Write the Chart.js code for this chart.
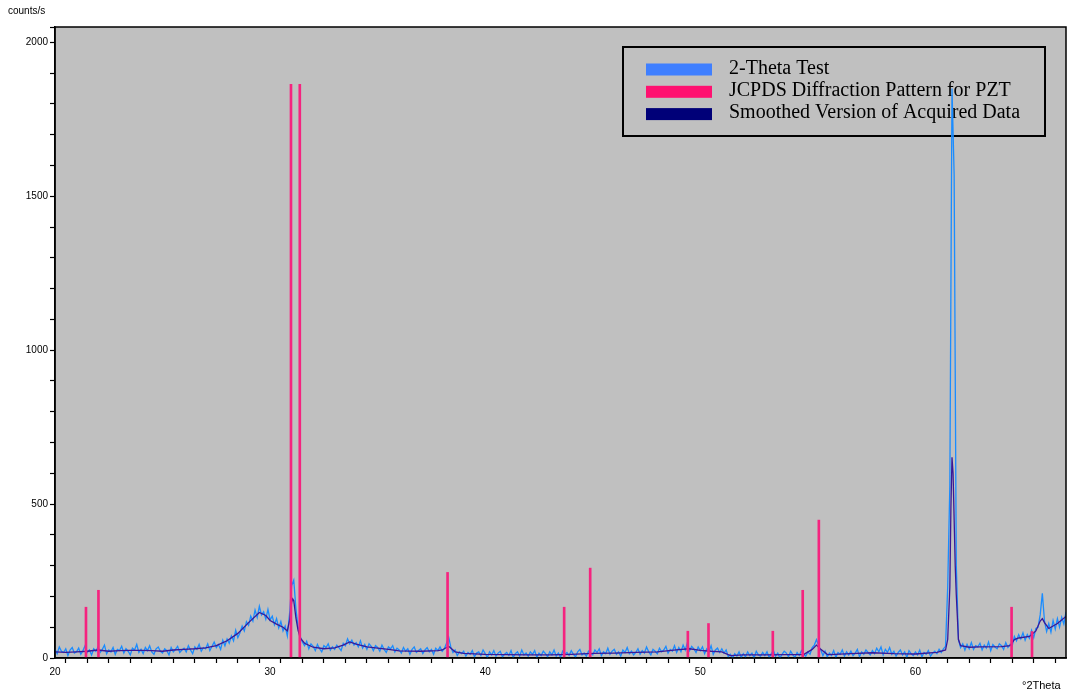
<!DOCTYPE html>
<html>
<head>
<meta charset="utf-8">
<title>XRD scan - PZT</title>
<script src="https://cdn.jsdelivr.net/npm/chart.js@4.4.1/dist/chart.umd.min.js"></script>
<style>
    html, body { margin: 0; padding: 0; background: #ffffff; }
    #wrap { width: 1073px; height: 696px; }
</style>
</head>
<body>
<div id="wrap"><canvas id="xrd" width="1073" height="696"></canvas></div>
<script>
// scan grid of the measured pattern (°2Theta)
const scanStart = 20;
const scanStep = 0.1;

// measured counts/s, one value per scan step, 20.0 .. 67.0
const rawCounts = [
    28, 14, 36, 22, 18, 30, 8, 26, 34, 16,
    20, 32, 12, 24, 40, 18, 26, 10, 30, 22,
    36, 18, 28, 42, 14, 26, 20, 34, 12, 28,
    24, 38, 16, 30, 22, 10, 32, 26, 44, 18,
    28, 14, 34, 24, 40, 20, 12, 30, 36, 22,
    16, 30, 24, 10, 34, 20, 28, 38, 18, 26,
    32, 20, 40, 26, 14, 36, 28, 44, 22, 34,
    30, 46, 24, 38, 52, 34, 44, 28, 58, 40,
    62, 48, 72, 56, 90, 66, 82, 104, 88, 118,
    106, 136, 120, 156, 132, 168, 140, 150, 126, 158,
    124, 136, 108, 128, 98, 118, 88, 104, 72, 140,
    235, 253, 160, 100, 70, 52, 40, 54, 30, 46,
    38, 24, 44, 30, 20, 40, 34, 46, 26, 36,
    28, 42, 34, 24, 48, 40, 62, 46, 58, 42,
    50, 36, 56, 32, 44, 28, 46, 38, 24, 40,
    34, 22, 42, 28, 18, 36, 30, 40, 20, 32,
    26, 16, 34, 22, 30, 12, 28, 36, 18, 24,
    30, 14, 26, 34, 20, 28, 12, 32, 24, 36,
    22, 30, 48, 68, 36, 18, 26, 8, 20, 14,
    22, 6, 18, 12, 24, 4, 16, 20, 8, 26,
    14, 2, 20, 10, 24, 6, 16, 22, 4, 12,
    18, 8, 24, 2, 14, 20, 6, 26, 10, 16,
    6, 20, 12, 24, 2, 16, 8, 22, 14, 4,
    20, 10, 26, 6, 16, 2, 22, 12, 18, 8,
    24, 12, 4, 20, 28, 10, 16, 6, 22, 14,
    10, 26, 18, 30, 8, 20, 14, 32, 12, 22,
    28, 12, 20, 6, 26, 18, 34, 14, 22, 10,
    18, 30, 12, 24, 16, 36, 20, 10, 28, 22,
    14, 32, 20, 26, 38, 16, 28, 22, 40, 18,
    34, 20, 42, 26, 50, 24, 38, 30, 18, 36,
    24, 36, 14, 30, 20, 40, 12, 26, 32, 18,
    30, 16, 26, 4, 12, 0, 14, 6, 20, 2,
    14, 4, 20, 8, 16, 0, 22, 10, 6, 18,
    8, 20, 2, 14, 24, 6, 16, 0, 12, 22,
    16, 4, 22, 10, 2, 18, 8, 24, 12, 6,
    20, 12, 34, 42, 60, 40, 26, 8, 22, 4,
    16, 8, 24, 2, 18, 12, 26, 6, 20, 10,
    22, 8, 16, 28, 4, 20, 12, 26, 18, 10,
    24, 14, 32, 20, 36, 10, 28, 18, 34, 12,
    22, 6, 18, 26, 10, 20, 2, 24, 14, 8,
    20, 10, 26, 4, 18, 12, 24, 6, 16, 22,
    14, 28, 18, 30, 38, 230, 560, 1850, 1570, 300,
    60, 34, 46, 26, 44, 30, 50, 28, 40, 36,
    48, 26, 42, 32, 52, 24, 44, 36, 30, 46,
    40, 28, 50, 34, 44, 40, 70, 56, 76, 62,
    82, 58, 76, 64, 90, 66, 96, 100, 140, 210,
    120, 86, 112, 84, 122, 94, 128, 100, 132, 110,
    150
];

// smoothed curve
const smoothTheta = [
    20.0, 20.5, 21.0, 21.5, 22.0, 22.5, 23.0, 23.5, 24.0, 24.5,
    25.0, 25.5, 26.0, 26.5, 27.0, 27.5, 28.0, 28.5, 29.0, 29.5,
    29.8, 30.0, 30.3, 30.6, 30.8, 30.9, 31.0, 31.05, 31.1, 31.2,
    31.3, 31.4, 31.6, 32.0, 32.5, 33.0, 33.4, 33.7, 34.0, 34.5,
    35.0, 35.5, 36.0, 37.0, 37.8, 38.0, 38.3, 38.6, 39.0, 40.0,
    41.0, 42.0, 43.0, 44.0, 45.0, 46.0, 47.0, 48.0, 49.0, 49.5,
    50.0, 50.5, 51.0, 51.4, 52.0, 53.0, 54.0, 54.8, 55.2, 55.4,
    55.6, 55.9, 56.0, 57.0, 58.0, 59.0, 60.0, 61.0, 61.4, 61.5,
    61.6, 61.65, 61.7, 61.75, 61.8, 61.85, 61.9, 62.0, 62.1, 62.5,
    63.0, 64.0, 64.4, 64.6, 64.8, 65.3, 65.6, 65.8, 65.9, 66.0,
    66.2, 66.6, 67.0
];
const smoothCounts = [
    20, 18, 20, 22, 26, 22, 24, 25, 25, 24,
    22, 26, 28, 30, 33, 40, 56, 80, 115, 148,
    138, 122, 110, 100, 88, 120, 180, 192, 186, 130,
    90, 65, 48, 35, 30, 33, 42, 52, 45, 36,
    32, 28, 23, 22, 24, 26, 38, 20, 15, 12,
    11, 10, 10, 12, 15, 16, 18, 20, 27, 30,
    25, 22, 20, 8, 10, 10, 11, 11, 28, 42,
    28, 12, 11, 14, 17, 14, 13, 18, 26, 60,
    230, 490, 652, 600, 450, 300, 205, 60, 40, 35,
    36, 37, 40, 60, 65, 70, 88, 120, 128, 115,
    96, 112, 135
];

// JCPDS reference lines for PZT
const jcpdsTheta = [21.44, 22.02, 30.97, 31.38, 38.25, 43.67, 44.88, 49.42, 50.38, 53.37, 54.76, 55.51, 64.47, 65.42];
const jcpdsIntensity = [165, 220, 1864, 1864, 278, 165, 292, 87, 112, 87, 220, 448, 165, 86];

const xLabelValues = [20, 30, 40, 50, 60];
const yLabelValues = [0, 500, 1000, 1500, 2000];

const rawPoints = rawCounts.map((c, i) => ({ x: Math.round((scanStart + i * scanStep) * 100) / 100, y: c }));
const smoothPoints = smoothTheta.map((t, i) => ({ x: t, y: smoothCounts[i] }));
const jcpdsPoints = jcpdsTheta.map((t, i) => ({ x: t, y: jcpdsIntensity[i] }));

// gray plot area, framed legend (drawn under the data) and the axis captions
const plotDecor = {
    id: 'plotDecor',
    beforeDraw(chart) {
        const { ctx, chartArea: a } = chart;
        ctx.save();
        ctx.fillStyle = '#c0c0c0';
        ctx.fillRect(a.left, a.top, a.right - a.left, a.bottom - a.top);
        ctx.restore();
    },
    beforeDatasetsDraw(chart) {
        const ctx = chart.ctx;
        const box = { x: 623, y: 47, w: 422, h: 89 };
        ctx.save();
        ctx.strokeStyle = '#000';
        ctx.lineWidth = 2;
        ctx.strokeRect(box.x, box.y, box.w, box.h);
        ctx.font = '20px "Liberation Serif", "Times New Roman", serif';
        ctx.textBaseline = 'middle';
        ctx.textAlign = 'left';
        chart.data.datasets.forEach((ds, i) => {
            const cy = 69.5 + i * 22.3;
            ctx.fillStyle = ds.swatch;
            ctx.fillRect(646, cy - 6, 66, 12);
            ctx.fillStyle = '#000';
            ctx.fillText(ds.label, 729, cy - 1);
        });
        ctx.restore();
    },
    afterDraw(chart) {
        const { ctx, chartArea: a } = chart;
        ctx.save();
        ctx.strokeStyle = '#000';
        ctx.lineWidth = 1.5;
        ctx.strokeRect(a.left, a.top, a.right - a.left, a.bottom - a.top);
        ctx.fillStyle = '#000';
        ctx.font = '10px "Liberation Sans", Arial, sans-serif';
        ctx.textBaseline = 'middle';
        ctx.textAlign = 'left';
        ctx.fillText('counts/s', 8, 11);
        ctx.font = '11px "Liberation Sans", Arial, sans-serif';
        ctx.fillText('°2Theta', 1022, 686);
        ctx.restore();
    }
};

new Chart(document.getElementById('xrd'), {
    type: 'line',
    data: {
        datasets: [
            {
                label: '2-Theta Test',
                data: rawPoints,
                borderColor: '#1a8cff',
                swatch: '#3f7fff',
                borderWidth: 1.3,
                pointRadius: 0,
                tension: 0,
                order: 3
            },
            {
                type: 'bar',
                label: 'JCPDS Diffraction Pattern for PZT',
                data: jcpdsPoints,
                backgroundColor: '#f5237f',
                swatch: '#ff1070',
                barThickness: 2,
                order: 1
            },
            {
                label: 'Smoothed Version of Acquired Data',
                data: smoothPoints,
                borderColor: '#3a1796',
                swatch: '#000078',
                borderWidth: 1.3,
                pointRadius: 0,
                tension: 0,
                order: 2
            }
        ]
    },
    options: {
        responsive: false,
        animation: false,
        layout: { padding: { top: 27, right: 7, left: 0, bottom: 0 } },
        plugins: {
            legend: { display: false },
            tooltip: { enabled: false }
        },
        scales: {
            x: {
                type: 'linear',
                min: 20,
                max: 67,
                offset: false,
                ticks: {
                    stepSize: 1,
                    autoSkip: false,
                    maxRotation: 0,
                    padding: 3,
                    color: '#000',
                    font: { family: '"Liberation Sans", Arial, sans-serif', size: 10 },
                    callback: v => xLabelValues.includes(Math.round(v)) && Math.abs(v - Math.round(v)) < 1e-6 ? String(Math.round(v)) : ''
                },
                grid: { drawOnChartArea: false, tickLength: 5, tickColor: '#000', tickWidth: 1.2 },
                border: { color: '#000', width: 1.5 },
                afterFit: s => { s.height = 38; }
            },
            y: {
                min: 0,
                max: 2050,
                ticks: {
                    stepSize: 100,
                    autoSkip: false,
                    padding: 2,
                    color: '#000',
                    font: { family: '"Liberation Sans", Arial, sans-serif', size: 10 },
                    callback: v => yLabelValues.includes(v) ? String(v) : ''
                },
                grid: { drawOnChartArea: false, tickLength: 5, tickColor: '#000', tickWidth: 1.2 },
                border: { color: '#000', width: 1.5 },
                afterFit: s => { s.width = 55; }
            }
        }
    },
    plugins: [plotDecor]
});
</script>
</body>
</html>
